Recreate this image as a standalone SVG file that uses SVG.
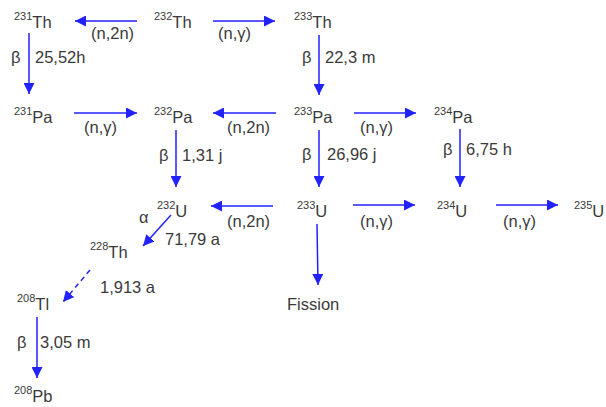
<svg xmlns="http://www.w3.org/2000/svg" width="606" height="407" viewBox="0 0 606 407">
<style>
text{font-family:"Liberation Sans",Arial,sans-serif;font-size:16.5px;fill:#3a3a3a}
.s{font-size:11px}
.c line{stroke:#2222ff;stroke-width:1.5;marker-end:url(#ah)}
.c .d{stroke-dasharray:5,4}
</style>
<defs>
<marker id="ah" markerWidth="12" markerHeight="11" refX="11" refY="5.5" orient="auto" markerUnits="userSpaceOnUse">
<path d="M0,0 L11,5.5 L0,11 z" fill="#2222ff"/>
</marker>
</defs>
<rect width="606" height="407" fill="#fff"/>
<g id="th231"><text x="14" y="28"><tspan class="s" dy="-8">231</tspan><tspan dy="8">Th</tspan></text></g>
<g id="th232"><text x="154" y="28"><tspan class="s" dy="-8">232</tspan><tspan dy="8">Th</tspan></text></g>
<g id="th233"><text x="294" y="28"><tspan class="s" dy="-8">233</tspan><tspan dy="8">Th</tspan></text></g>
<g id="pa231"><text x="14" y="123"><tspan class="s" dy="-8">231</tspan><tspan dy="8">Pa</tspan></text></g>
<g id="pa232"><text x="154" y="123"><tspan class="s" dy="-8">232</tspan><tspan dy="8">Pa</tspan></text></g>
<g id="pa233"><text x="294" y="123"><tspan class="s" dy="-8">233</tspan><tspan dy="8">Pa</tspan></text></g>
<g id="pa234"><text x="434" y="123"><tspan class="s" dy="-8">234</tspan><tspan dy="8">Pa</tspan></text></g>
<g id="u232"><text x="157" y="217"><tspan class="s" dy="-8">232</tspan><tspan dy="8">U</tspan></text></g>
<g id="u233"><text x="297" y="217"><tspan class="s" dy="-8">233</tspan><tspan dy="8">U</tspan></text></g>
<g id="u234"><text x="437" y="217"><tspan class="s" dy="-8">234</tspan><tspan dy="8">U</tspan></text></g>
<g id="u235"><text x="574" y="217"><tspan class="s" dy="-8">235</tspan><tspan dy="8">U</tspan></text></g>
<g id="th228"><text x="90" y="258"><tspan class="s" dy="-8">228</tspan><tspan dy="8">Th</tspan></text></g>
<g id="tl208"><text x="17" y="310"><tspan class="s" dy="-8">208</tspan><tspan dy="8">Tl</tspan></text></g>
<g id="pb208"><text x="14" y="402"><tspan class="s" dy="-8">208</tspan><tspan dy="8">Pb</tspan></text></g>
<g id="fission"><text x="287" y="310">Fission</text></g>
<g class="c" id="connectors">
<line x1="137" y1="21" x2="75" y2="21"/>
<line x1="213" y1="21" x2="275" y2="21"/>
<line x1="29" y1="33" x2="29" y2="94"/>
<line x1="319" y1="35" x2="319" y2="95"/>
<line x1="74" y1="113" x2="137" y2="113"/>
<line x1="276" y1="113" x2="213" y2="113"/>
<line x1="354" y1="113" x2="416" y2="113"/>
<line x1="176" y1="130" x2="176" y2="187"/>
<line x1="319" y1="130" x2="319" y2="187"/>
<line x1="460" y1="129" x2="460" y2="187"/>
<line x1="273" y1="206" x2="211" y2="206"/>
<line x1="353" y1="205" x2="415" y2="205"/>
<line x1="496" y1="205" x2="558" y2="205"/>
<line x1="317" y1="224" x2="318" y2="285"/>
<line x1="171" y1="215" x2="143" y2="246"/>
<line class="d" x1="90" y1="270" x2="63" y2="302"/>
<line x1="37" y1="317" x2="37" y2="378"/>
</g>
<g id="labels">
<text x="91" y="39">(n,2n)</text>
<text x="218" y="39">(n,γ)</text>
<text x="11" y="63">β</text><text x="35" y="63">25,52h</text>
<text x="302" y="63">β</text><text x="325" y="63">22,3 m</text>
<text x="84" y="133">(n,γ)</text>
<text x="227" y="133">(n,2n)</text>
<text x="360" y="133">(n,γ)</text>
<text x="159" y="161">β</text><text x="182" y="161">1,31 j</text>
<text x="302" y="160">β</text><text x="327" y="160">26,96 j</text>
<text x="443" y="155">β</text><text x="466" y="155">6,75 h</text>
<text x="227" y="227">(n,2n)</text>
<text x="360" y="227">(n,γ)</text>
<text x="503" y="227">(n,γ)</text>
<text x="139" y="223">α</text><text x="165" y="245">71,79 a</text>
<text x="100" y="293">1,913 a</text>
<text x="17" y="348">β</text><text x="40" y="348">3,05 m</text>
</g>
</svg>
